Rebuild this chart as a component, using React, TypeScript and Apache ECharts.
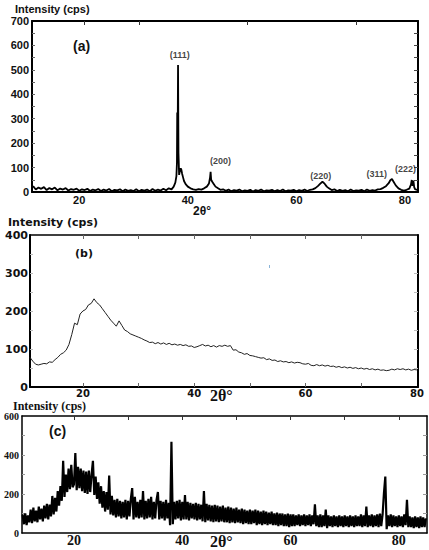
import React, { useEffect, useRef } from "react";
import * as echarts from "echarts";

// ---------- Panel (a): 2θ (deg) and intensity (cps) ----------
const aTheta = [
  11.5, 12, 12.5, 13, 13.5, 14, 14.5, 15, 15.5, 16, 16.5, 17, 17.5, 18, 18.5, 19, 19.5, 20, 20.5, 21, 21.5, 22, 22.5, 23, 23.5, 24,
  24.5, 25, 25.5, 26, 26.5, 27, 27.5, 28, 28.5, 29, 29.5, 30, 30.5, 31, 31.5, 32, 32.5, 33, 33.5, 34, 34.5, 35, 35.5, 36, 36.5, 37,
  37.4, 37.7, 37.9, 38.0, 38.05, 38.12, 38.2, 38.28, 38.4, 38.55, 38.7, 38.8, 38.95, 39.1, 39.3, 39.6,
  40, 40.5, 41, 41.5, 42, 42.5, 43, 43.5, 43.9, 44.1, 44.2, 44.3, 44.5, 44.8, 45.1,
  45.5, 46, 46.5, 47, 47.5, 48, 48.5, 49, 49.5, 50, 50.5, 51, 51.5, 52, 52.5, 53, 53.5, 54, 54.5, 55, 55.5, 56,
  56.5, 57, 57.5, 58, 58.5, 59, 59.5, 60, 60.5, 61, 61.5, 62, 62.5, 63, 63.5, 64,
  64.4, 64.8, 65.2, 65.6, 66, 66.5, 67, 67.5, 68, 68.5, 69, 69.5, 70, 70.5, 71, 71.5, 72, 72.5, 73, 73.5, 74, 74.5, 75, 75.5, 76, 76.5, 77,
  77.3, 77.6, 77.9, 78.3, 78.8, 79.3, 79.8, 80.3, 80.8, 81.1, 81.25, 81.4, 81.55, 81.7, 81.85, 82.1, 82.4,
];
const aIntensity = [
  24, 10, 18, 13, 20, 8, 16, 11, 18, 7, 14, 10, 16, 6, 12, 9, 14, 5, 11, 8, 13, 4, 10, 7, 12, 4,
  10, 6, 12, 3, 9, 7, 11, 3, 10, 5, 8, 4, 11, 3, 9, 6, 10, 3, 12, 5, 10, 6, 13, 7, 15, 11,
  22, 38, 65, 120, 325, 170, 520, 160, 70, 88, 97, 92, 75, 62, 45, 32,
  22, 15, 11, 9, 12, 10, 15, 22, 35, 60, 83, 50, 42, 32, 22,
  16, 9, 11, 5, 10, 3, 8, 6, 10, 3, 7, 5, 9, 2, 8, 5, 10, 3, 7, 6, 9, 3,
  8, 4, 10, 3, 7, 6, 9, 3, 8, 5, 10, 4, 9, 11, 16, 25,
  34, 42, 34, 22, 15, 8, 11, 4, 9, 5, 8, 3, 10, 4, 7, 6, 9, 3, 10, 5, 8, 6, 11, 12, 17, 24, 36,
  48, 53, 42, 27, 15, 9, 6, 9, 14, 30, 49, 25, 47, 20, 12, 10, 8,
];
const hklLabels = ["(111)", "(200)", "(220)", "(311)", "(222)"];
const hklTheta = [38.5, 46.0, 64.5, 74.8, 80.1];
const hklY = [562, 128, 67, 74, 94];
const aXTicks = [20, 40, 60, 80];
const aTopTicks = [21, 31, 51, 71];
const aYTicks = [0, 100, 200, 300, 400, 500, 600, 700];
const aYMinor = [50, 100, 150, 200, 250, 300, 350, 400, 450, 500, 550, 600, 650];

// ---------- Panel (b): scan from 10.5° in 0.5° steps ----------
const bStart = 10.5;
const bStep = 0.5;
const bIntensity = [
  78, 68, 60, 58, 60, 62, 61, 66, 65, 72, 78, 86, 90, 97, 112, 138, 168, 164, 192, 200,
  204, 216, 220, 232, 222, 216, 206, 196, 186, 176, 168, 160, 174, 162, 150, 146, 140, 137, 134, 131,
  128, 124, 121, 117, 118, 114, 117, 113, 116, 112, 115, 111, 113, 110, 112, 109, 111, 107, 108, 104,
  106, 109, 112, 108, 110, 106, 109, 105, 109, 107, 110, 107, 109, 97, 98, 92, 90, 86, 88, 83,
  82, 80, 78, 76, 77, 72, 74, 70, 71, 67, 69, 66, 67, 64, 66, 63, 65, 64, 61, 60,
  62, 57, 56, 59, 56, 58, 55, 57, 54, 55, 52, 54, 51, 53, 50, 52, 49, 51, 48, 50,
  47, 49, 46, 48, 45, 47, 44, 45, 43, 44, 47, 45, 48, 46, 48, 45, 47, 44, 46, 45,
];
const bXTicks = [20, 40, 60, 80];
const bXMinor = [20, 30, 40, 50, 60, 70];
const bYTicks = [0, 100, 200, 300, 400];
const bYMinor = [50, 100, 150, 200, 250, 300, 350];

// ---------- Panel (c): scan from 10.5° in 0.25° steps ----------
const cStart = 10.5;
const cStep = 0.25;
const cIntensity = [
  95, 45, 100, 40, 90, 55, 120, 50, 130, 60, 115, 55, 135, 70, 125, 60, 140, 75, 150, 70,
  145, 85, 190, 95, 180, 110, 215, 140, 240, 165, 370, 185, 300, 210, 330, 225, 350, 235, 250, 410,
  220, 340, 230, 330, 215, 320, 205, 315, 200, 320, 210, 300, 370, 195, 290, 175, 260, 150, 240, 130,
  215, 110, 210, 120, 295, 95, 190, 90, 170, 80, 175, 85, 165, 75, 160, 80, 170, 70, 165, 85,
  175, 230, 70, 185, 80, 160, 75, 170, 80, 215, 70, 165, 75, 175, 80, 185, 70, 160, 75, 170,
  210, 70, 165, 75, 160, 65, 170, 75, 155, 40, 468, 45, 160, 70, 165, 75, 170, 65, 160, 70,
  195, 70, 160, 65, 155, 75, 150, 70, 155, 65, 150, 70, 145, 60, 215, 55, 150, 65, 145, 60,
  140, 55, 145, 60, 140, 55, 135, 60, 140, 55, 130, 55, 135, 50, 130, 55, 125, 50, 130, 55,
  120, 50, 125, 45, 120, 50, 115, 45, 120, 45, 115, 50, 120, 40, 115, 45, 110, 40, 115, 45,
  110, 40, 105, 45, 110, 40, 100, 40, 105, 35, 100, 40, 100, 35, 95, 35, 100, 30, 95, 35,
  95, 35, 90, 40, 95, 35, 90, 40, 95, 35, 90, 40, 95, 35, 90, 45, 147, 35, 90, 30,
  95, 30, 90, 35, 120, 25, 90, 35, 85, 30, 90, 35, 85, 30, 90, 35, 85, 30, 90, 35,
  85, 30, 90, 35, 85, 30, 90, 35, 85, 35, 95, 30, 90, 35, 135, 30, 90, 35, 95, 30,
  90, 35, 95, 30, 100, 35, 95, 205, 289, 20, 90, 35, 95, 30, 90, 35, 85, 30, 90, 35,
  85, 30, 95, 40, 170, 30, 85, 30, 80, 25, 85, 30, 80, 25, 85, 30, 80, 30, 75,
];
const cXTicks = [20, 40, 60, 80];
const cXMinor = [20, 30, 40, 50, 60, 70, 80];
const cYTicks = [0, 200, 400, 600];
const cYMinor = [100, 200, 300, 400, 500];

const SANS = "Liberation Sans";
const WIDE = "DejaVu Sans";
const SERIF = "Liberation Serif";

function bottomAxis(grid: number, min: number, max: number, labels: number[], font: string, size: number, margin: number, lw: number, minor?: number[]) {
  return {
    type: "value", gridIndex: grid, position: "bottom", min, max,
    axisLine: { show: true, onZero: false, lineStyle: { color: "#000", width: lw } },
    axisTick: minor ? { show: true, inside: true, length: 4, customValues: minor, lineStyle: { color: "#666", width: 1 } } : { show: false },
    axisLabel: { show: true, customValues: labels, margin, color: "#111", fontFamily: font, fontWeight: "bold", fontSize: size, showMinLabel: true, showMaxLabel: true },
    splitLine: { show: false },
  };
}
function topAxis(grid: number, min: number, max: number, ticks: number[], lw: number, color: string) {
  return {
    type: "value", gridIndex: grid, position: "top", min, max,
    axisLine: { show: true, onZero: false, lineStyle: { color: "#000", width: lw } },
    axisTick: { show: true, inside: true, length: 4, customValues: ticks, lineStyle: { color, width: 1 } },
    axisLabel: { show: false },
    splitLine: { show: false },
  };
}
function leftAxis(grid: number, max: number, labels: number[], minor: number[], font: string, size: number, margin: number, lw: number, tickColor: string) {
  return {
    type: "value", gridIndex: grid, position: "left", min: 0, max,
    axisLine: { show: true, onZero: false, lineStyle: { color: "#000", width: lw } },
    axisTick: { show: true, inside: true, length: 3, customValues: minor, lineStyle: { color: tickColor, width: 1 } },
    axisLabel: { show: true, customValues: labels, margin, color: "#111", fontFamily: font, fontWeight: "bold", fontSize: size },
    splitLine: { show: false },
  };
}
function rightAxis(grid: number, max: number, minor: number[], lw: number, tickColor: string) {
  return {
    type: "value", gridIndex: grid, position: "right", min: 0, max,
    axisLine: { show: true, onZero: false, lineStyle: { color: "#000", width: lw } },
    axisTick: { show: true, inside: true, length: 4, customValues: minor, lineStyle: { color: tickColor, width: 1 } },
    axisLabel: { show: false },
    splitLine: { show: false },
  };
}
function txt(text: string, x: number, y: number, font: string, size: number) {
  return {
    type: "text", x, y, z: 10,
    style: { text, fill: "#111", fontFamily: font, fontWeight: "bold", fontSize: size, verticalAlign: "middle", align: "left" },
  };
}

export default function App() {
  const ref = useRef<HTMLDivElement>(null);
  useEffect(() => {
    if (!ref.current) return;
    const chart = echarts.init(ref.current, undefined, { renderer: "svg" });
    const aData = aTheta.map((t, i) => [t, aIntensity[i]]);
    const bData = bIntensity.map((v, i) => [bStart + i * bStep, v]);
    const cData = cIntensity.map((v, i) => [cStart + i * cStep, v]);
    const hklData = hklLabels.map((n, i) => ({ name: n, value: [hklTheta[i], hklY[i]] }));

    chart.setOption({
      animation: false,
      backgroundColor: "#fff",
      grid: [
        { left: 32, top: 21, width: 386, height: 171, containLabel: false },
        { left: 30, top: 235, width: 388, height: 152, containLabel: false },
        { left: 22, top: 416, width: 405, height: 117, containLabel: false },
      ],
      xAxis: [
        bottomAxis(0, 11.3, 82.4, aXTicks, SANS, 11, 2, 2),
        topAxis(0, 11.3, 82.4, aTopTicks, 2, "#333"),
        bottomAxis(1, 10.5, 80.2, bXTicks, WIDE, 10, 1, 2, bXMinor),
        topAxis(1, 10.5, 80.2, bXMinor, 1.5, "#666"),
        bottomAxis(2, 10.4, 85.2, cXTicks, SERIF, 14, 0, 1.5),
        topAxis(2, 10.4, 85.2, cXMinor, 1.5, "#333"),
      ],
      yAxis: [
        leftAxis(0, 700, aYTicks, aYMinor, SANS, 11, 3, 2, "#666"),
        rightAxis(0, 700, aYMinor, 2, "#444"),
        leftAxis(1, 400, bYTicks, bYMinor, WIDE, 11, 2, 2, "#bbb"),
        rightAxis(1, 400, bYMinor, 2, "#bbb"),
        leftAxis(2, 600, cYTicks, cYMinor, SERIF, 10, 3, 1.5, "#999"),
        rightAxis(2, 600, cYMinor, 1.5, "#999"),
      ],
      series: [
        {
          type: "line", xAxisIndex: 0, yAxisIndex: 0, data: aData, showSymbol: false, symbol: "none",
          lineStyle: { color: "#000", width: 1.8 }, z: 3,
        },
        {
          type: "scatter", xAxisIndex: 0, yAxisIndex: 0, data: hklData, symbolSize: 0,
          label: { show: true, position: "inside", formatter: "{b}", color: "#111", fontFamily: SANS, fontWeight: "bold", fontSize: 9 },
          z: 4,
        },
        {
          type: "line", xAxisIndex: 2, yAxisIndex: 2, data: bData, showSymbol: false, symbol: "none",
          lineStyle: { color: "#222", width: 1 }, z: 3,
        },
        {
          type: "line", xAxisIndex: 4, yAxisIndex: 4, data: cData, showSymbol: false, symbol: "none",
          lineStyle: { color: "#000", width: 2.2 }, z: 3,
        },
      ],
      graphic: [
        txt("Intensity (cps)", 15, 8.5, SANS, 11),
        txt("(a)", 73, 46, SANS, 14),
        txt("2θ°", 193, 211, SANS, 12),
        txt("Intensity (cps)", 8, 222, WIDE, 11),
        txt("(b)", 75, 253, WIDE, 11),
        txt("2θ°", 210, 395, SERIF, 16),
        { type: "rect", shape: { x: 269, y: 265, width: 1, height: 3 }, style: { fill: "#8ab4d8" }, z: 10 },
        txt("Intensity (cps)", 13, 406, SERIF, 12),
        txt("(c)", 49, 431, SANS, 14),
        txt("2θ°", 210, 541.5, SERIF, 16),
      ],
    });
    return () => chart.dispose();
  }, []);
  return (
    <div
      ref={ref}
      style={{ position: "absolute", left: 0, top: 0, width: 429, height: 550, background: "#fff" }}
    />
  );
}
